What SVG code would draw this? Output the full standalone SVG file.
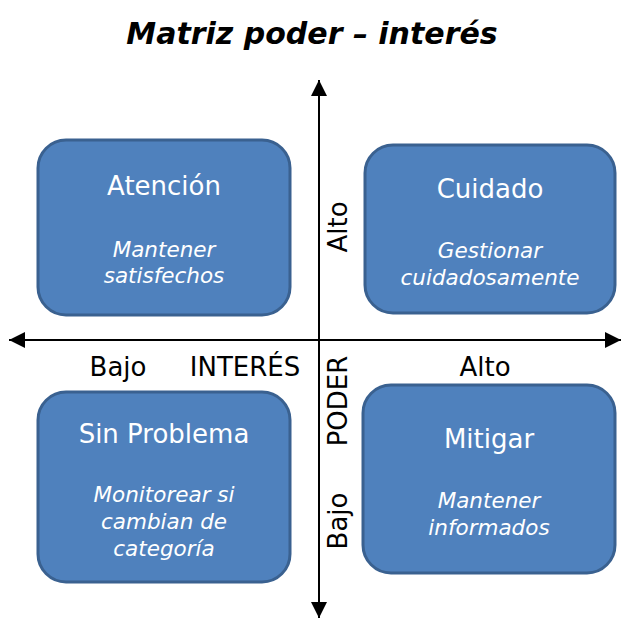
<svg xmlns="http://www.w3.org/2000/svg" width="623" height="620" viewBox="0 0 623 620">
  <defs>
    <marker id="arrow" viewBox="0 0 16 16" refX="16" refY="8" markerWidth="16" markerHeight="16" markerUnits="userSpaceOnUse" orient="auto-start-reverse">
      <path d="M0,0 L16,8 L0,16 z" fill="#000"/>
    </marker>
  </defs>
  <style>
    .box { fill: #4f81bd; stroke: #3a6190; stroke-width: 3; }
    .ttl { font-family: "DejaVu Sans", Verdana, sans-serif; font-size: 26px; fill: #fff; text-anchor: middle; }
    .sub { font-family: "DejaVu Sans", Verdana, sans-serif; font-size: 21.5px; font-style: italic; fill: #fff; text-anchor: middle; }
    .ax { font-family: "DejaVu Sans", Verdana, sans-serif; font-size: 26px; fill: #000; text-anchor: middle; }
    .axis { stroke: #000; stroke-width: 2; fill: none; }
  </style>
  <rect width="623" height="620" fill="#fff"/>
  <text x="312" y="44" font-family="DejaVu Sans, Verdana, sans-serif" font-size="30" font-weight="bold" font-style="italic" text-anchor="middle" fill="#000">Matriz poder – interés</text>

  <g id="connectors">
    <line class="axis" x1="319" y1="80" x2="319" y2="618" marker-start="url(#arrow)" marker-end="url(#arrow)"/>
    <line class="axis" x1="9" y1="340" x2="621" y2="340" marker-start="url(#arrow)" marker-end="url(#arrow)"/>
  </g>

  <g id="axis-labels">
    <text class="ax" x="118" y="376">Bajo</text>
    <text class="ax" x="245" y="376">INTERÉS</text>
    <text class="ax" x="485" y="376">Alto</text>
    <text class="ax" transform="translate(347,227) rotate(-90)">Alto</text>
    <text class="ax" transform="translate(347,401) rotate(-90)">PODER</text>
    <text class="ax" transform="translate(347,521) rotate(-90)">Bajo</text>
  </g>

  <g id="atencion">
    <rect class="box" x="38" y="140" width="252" height="175" rx="28"/>
    <text class="ttl" x="164" y="195">Atención</text>
    <text class="sub" x="164" y="257">Mantener</text>
    <text class="sub" x="164" y="283">satisfechos</text>
  </g>

  <g id="cuidado">
    <rect class="box" x="365" y="145" width="250" height="168" rx="28"/>
    <text class="ttl" x="490" y="198">Cuidado</text>
    <text class="sub" x="490" y="258">Gestionar</text>
    <text class="sub" x="490" y="285">cuidadosamente</text>
  </g>

  <g id="sin-problema">
    <rect class="box" x="38" y="392" width="252" height="190" rx="28"/>
    <text class="ttl" x="164" y="443">Sin Problema</text>
    <text class="sub" x="164" y="502">Monitorear si</text>
    <text class="sub" x="164" y="529">cambian de</text>
    <text class="sub" x="164" y="556">categoría</text>
  </g>

  <g id="mitigar">
    <rect class="box" x="363" y="385" width="252" height="188" rx="28"/>
    <text class="ttl" x="489" y="448">Mitigar</text>
    <text class="sub" x="489" y="508">Mantener</text>
    <text class="sub" x="489" y="535">informados</text>
  </g>
</svg>
